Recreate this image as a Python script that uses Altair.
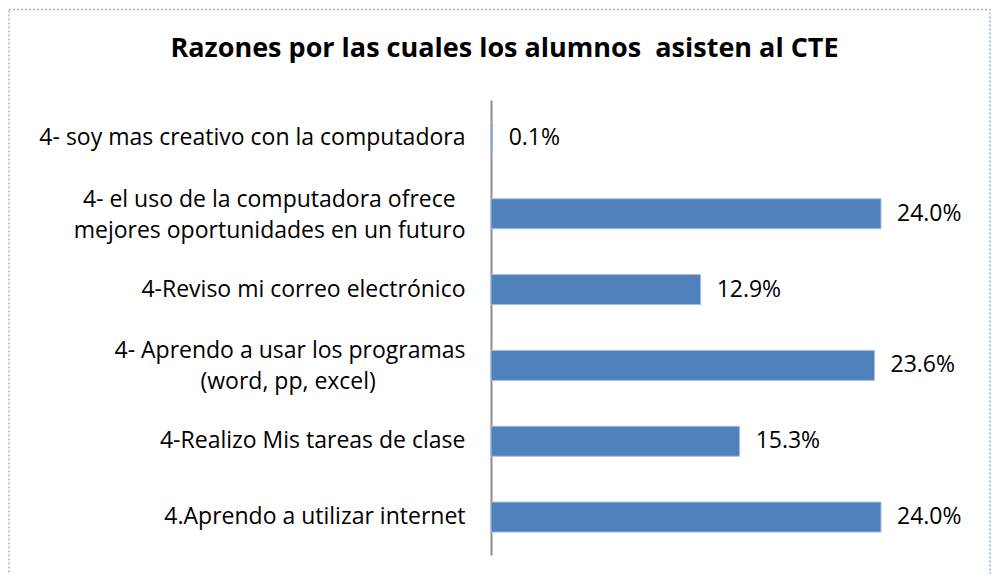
import altair as alt
import pandas as pd

NB = "\u00a0"
SIX = "\u2006"
WJ = "\u2060"
categories = [
    "4- soy mas creativo con la computadora",
    "4- el uso de la computadora ofrece" + NB + SIX + WJ + "\nmejores oportunidades en un futuro",
    "4-Reviso mi correo electrónico",
    "4- Aprendo a usar los programas\n(word, pp, excel)" + NB * 15 + WJ,
    "4-Realizo Mis tareas de clase",
    "4.Aprendo a utilizar internet",
]
values = [0.001, 0.240, 0.129, 0.236, 0.153, 0.240]

title_text = "Razones por las cuales los alumnos" + NB + " asisten al CTE"

df = pd.DataFrame({"cat": categories, "val": values})

FONT = "Open Sans"
FS = 23
W, H = 455, 455

y_enc = alt.Y(
    "cat:N",
    sort=None,
    scale=alt.Scale(paddingInner=0.604, paddingOuter=0.302),
    axis=alt.Axis(
        title=None,
        ticks=False,
        domainColor="#8C8C8C",
        domainWidth=2,
        labelPadding=26,
        labelFont=FONT,
        labelFontSize=FS,
        labelColor="#000000",
        labelLimit=0,
        labelLineHeight=31,
        labelExpr="split(datum.value, '\\n')",
        labelOffset={"expr": "indexof(datum.value, '\\n') >= 0 ? -14 : 0"},
    ),
)
x_enc = alt.X("val:Q", scale=alt.Scale(domain=[0, 0.28]), axis=None)

bars = alt.Chart(df).mark_bar(
    color="#4F81BD", stroke="#A7BFDE", strokeWidth=1
).encode(x=x_enc, y=y_enc)

labels = alt.Chart(df).mark_text(
    align="left", baseline="middle", dx=16, font=FONT, fontSize=FS, color="#000000"
).encode(x=x_enc, y=alt.Y("cat:N", sort=None), text=alt.Text("val:Q", format=".1%"))

border = alt.Chart(pd.DataFrame({"a": [0]})).mark_rect(
    fillOpacity=0, stroke="#95B3D7", strokeWidth=1.5, strokeDash=[2, 2]
).encode(
    x=alt.value(-482), x2=alt.value(499), y=alt.value(-90.5), y2=alt.value(480)
)

chart = (
    alt.layer(border, bars, labels)
    .properties(
        width=W,
        height=H,
        autosize=alt.AutoSizeParams(type="none"),
        padding={"left": 483, "top": 92, "right": 46, "bottom": 19},
        title=alt.TitleParams(
            text=title_text,
            font=FONT,
            fontSize=27,
            fontWeight="bold",
            color="#000000",
            anchor="middle",
            baseline="alphabetic",
            offset=0,
            dy=75,
            dx=-214,
        ),
    )
    .configure_view(stroke=None)
)

chart.save("out.html", embed_options={"renderer": "svg", "actions": False})
